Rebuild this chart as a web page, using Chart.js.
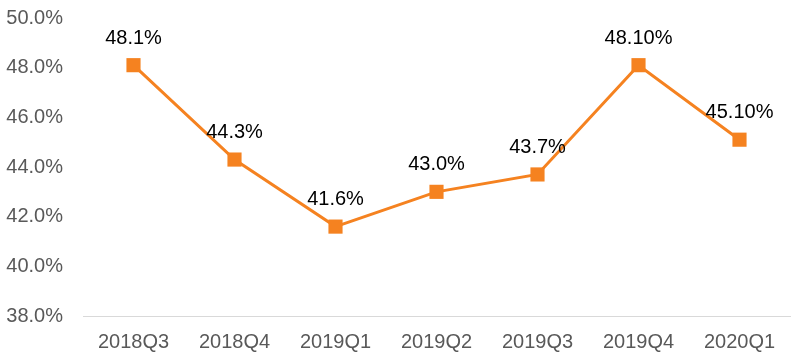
<!DOCTYPE html>
<html>
<head>
<meta charset="utf-8">
<script src="https://cdn.jsdelivr.net/npm/chart.js@4/dist/chart.umd.min.js"></script>
<style>
html,body{margin:0;padding:0;background:#fff;}
#wrap{width:800px;height:356px;position:relative;}
</style>
</head>
<body>
<div id="wrap"><canvas id="c"></canvas></div>
<script>
const categories = ['2018Q3','2018Q4','2019Q1','2019Q2','2019Q3','2019Q4','2020Q1'];
const values = [48.1, 44.3, 41.6, 43.0, 43.7, 48.1, 45.1];
const pointLabels = ['48.1%','44.3%','41.6%','43.0%','43.7%','48.10%','45.10%'];
const yTicks = [38, 40, 42, 44, 46, 48, 50];

const labelPlugin = {
  id: 'pointLabels',
  afterDatasetsDraw(chart) {
    const ctx = chart.ctx;
    const meta = chart.getDatasetMeta(0);
    ctx.save();
    ctx.font = '20px "Liberation Sans", Arial, sans-serif';
    ctx.fillStyle = '#000';
    ctx.textAlign = 'center';
    ctx.textBaseline = 'middle';
    meta.data.forEach((pt, i) => {
      ctx.fillText(pointLabels[i], pt.x, pt.y - 27);
    });
    ctx.restore();
  }
};

new Chart(document.getElementById('c'), {
  type: 'line',
  data: {
    labels: categories,
    datasets: [{
      data: values,
      borderColor: '#F58220',
      backgroundColor: '#F58220',
      borderWidth: 3,
      pointStyle: 'rect',
      pointRadius: 10,
      pointHoverRadius: 10,
      pointBorderWidth: 0,
      tension: 0
    }]
  },
  options: {
    responsive: true,
    maintainAspectRatio: false,
    animation: false,
    events: [],
    layout: { padding: { top: 18, right: 10, bottom: 0, left: 0 } },
    plugins: { legend: { display: false }, tooltip: { enabled: false } },
    scales: {
      x: {
        offset: true,
        grid: { display: false, drawTicks: false, offset: true },
        border: { display: true, color: '#D9D9D9', width: 1 },
        ticks: {
          color: '#595959',
          font: { family: '"Liberation Sans", Arial, sans-serif', size: 20 },
          padding: 14,
          maxRotation: 0
        },
        afterFit(s) { s.height = 40; s.paddingLeft = 0; s.paddingRight = 0; }
      },
      y: {
        min: 38, max: 50,
        grid: { display: false, drawTicks: false },
        border: { display: false },
        afterBuildTicks(s) { s.ticks = yTicks.map(v => ({ value: v })); },
        ticks: {
          color: '#595959',
          font: { family: '"Liberation Sans", Arial, sans-serif', size: 20 },
          padding: 20,
          callback: v => Number(v).toFixed(1) + '%'
        },
        afterFit(s) { s.width = 83; s.paddingTop = 0; s.paddingBottom = 0; }
      }
    }
  },
  plugins: [labelPlugin]
});
</script>
</body>
</html>
